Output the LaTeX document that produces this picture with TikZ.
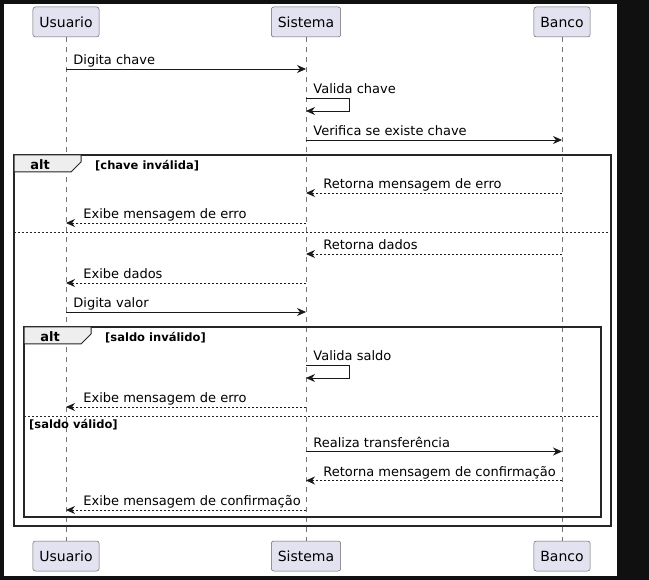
\documentclass[tikz,border=0pt]{standalone}
\usepackage{fontspec}
\setmainfont{DejaVu Sans}
\usetikzlibrary{arrows.meta,positioning}
\definecolor{actorfill}{HTML}{E2E2F0}
\definecolor{tabfill}{HTML}{EEEEEE}
\definecolor{outside}{HTML}{101010}

\begin{document}
\begin{tikzpicture}[x=1pt,y=-1pt,>={Stealth[length=9pt,width=8pt,inset=3pt]},
		actor node/.style={draw=black!60,fill=actorfill,rounded corners=2.5pt,line width=0.5pt,minimum height=30pt,inner xsep=6.5pt,font=\fontsize{14}{16}\selectfont},
		life/.style={draw=black!55,dash pattern=on 5pt off 5pt,line width=0.5pt},
		msg/.style={->,draw=black!90,line width=0.8pt},
		reply/.style={msg,dash pattern=on 2pt off 2pt},
		lblR/.style={pos=0,anchor=base west,xshift=7pt,yshift=4pt,inner sep=0pt,font=\fontsize{13}{15}\selectfont},
		lblL/.style={pos=1,anchor=base west,xshift=17pt,yshift=4pt,inner sep=0pt,font=\fontsize{13}{15}\selectfont},
		frame/.style={draw=black!85,line width=1.5pt},
		tab/.style={draw=black!85,line width=1pt,fill=tabfill},
		sep/.style={draw=black!85,line width=0.8pt,dash pattern=on 2pt off 2pt},
		alt node/.style={inner sep=0pt,font=\fontsize{13}{15}\selectfont\bfseries},
		guard node/.style={anchor=base west,inner sep=0pt,font=\fontsize{11.5}{13}\selectfont\bfseries}]
		\fill[outside] (0,0) rectangle (649,580);
		\fill[white] (4,4) rectangle (617,576);
		% participants
		\node[actor node] (usrTop) at (66,22) {Usuario};
		\node[actor node] (sysTop) at (306,22) {Sistema};
		\node[actor node] (bnkTop) at (562,22) {Banco};
		\node[actor node] (usrBot) at (66,556) {Usuario};
		\node[actor node] (sysBot) at (306,556) {Sistema};
		\node[actor node] (bnkBot) at (562,556) {Banco};
		\draw[life] (usrTop) -- (usrBot);
		\draw[life] (sysTop) -- (sysBot);
		\draw[life] (bnkTop) -- (bnkBot);
		% alt frames
		\draw[frame] (14,155) rectangle (611,526);
		\draw[tab] (14,155) -- (81,155) -- (81,162) -- (71,172) -- (14,172) -- cycle;
		\node[alt node] (alt1) at (40,165) {alt};
		\node[guard node] (g1) at (95,170) {[chave inválida]};
		\draw[sep] (14,232) -- (611,232);
		\draw[frame] (24,327) rectangle (601,517);
		\draw[tab] (24,327) -- (91,327) -- (91,334) -- (81,344) -- (24,344) -- cycle;
		\node[alt node] (alt2) at (50,337) {alt};
		\node[guard node] (g2) at (105,342) {[saldo inválido]};
		\draw[sep] (24,416) -- (601,416);
		\node[guard node] (g3) at (29,428.5) {[saldo válido]};
		% message rows
		\coordinate (m1) at (0,69);
		\coordinate (s1) at (349,98);
		\coordinate (s1e) at (349,111);
		\coordinate (m2) at (0,140);
		\coordinate (r1) at (0,193);
		\coordinate (r2) at (0,223);
		\coordinate (r3) at (0,254);
		\coordinate (r4) at (0,283);
		\coordinate (m3) at (0,312);
		\coordinate (s2) at (349,365);
		\coordinate (s2e) at (349,378);
		\coordinate (r5) at (0,407);
		\coordinate (m4) at (0,451.5);
		\coordinate (r6) at (0,480.5);
		\coordinate (r7) at (0,510);
		\draw[msg] (usrTop |- m1) -- node[lblR] {Digita chave} (sysTop |- m1);
		\draw[msg] (sysTop |- s1) -- node[lblR] {Valida chave} (s1) -- (s1e) -- (sysTop |- s1e);
		\draw[msg] (sysTop |- m2) -- node[lblR] {Verifica se existe chave} (bnkTop |- m2);
		\draw[reply] (bnkTop |- r1) -- node[lblL] {Retorna mensagem de erro} (sysTop |- r1);
		\draw[reply] (sysTop |- r2) -- node[lblL] {Exibe mensagem de erro} (usrTop |- r2);
		\draw[reply] (bnkTop |- r3) -- node[lblL] {Retorna dados} (sysTop |- r3);
		\draw[reply] (sysTop |- r4) -- node[lblL] {Exibe dados} (usrTop |- r4);
		\draw[msg] (usrTop |- m3) -- node[lblR] {Digita valor} (sysTop |- m3);
		\draw[msg] (sysTop |- s2) -- node[lblR] {Valida saldo} (s2) -- (s2e) -- (sysTop |- s2e);
		\draw[reply] (sysTop |- r5) -- node[lblL] {Exibe mensagem de erro} (usrTop |- r5);
		\draw[msg] (sysTop |- m4) -- node[lblR] {Realiza transferência} (bnkTop |- m4);
		\draw[reply] (bnkTop |- r6) -- node[lblL] {Retorna mensagem de confirmação} (sysTop |- r6);
		\draw[reply] (sysTop |- r7) -- node[lblL] {Exibe mensagem de confirmação} (usrTop |- r7);
\end{tikzpicture}
\end{document}
